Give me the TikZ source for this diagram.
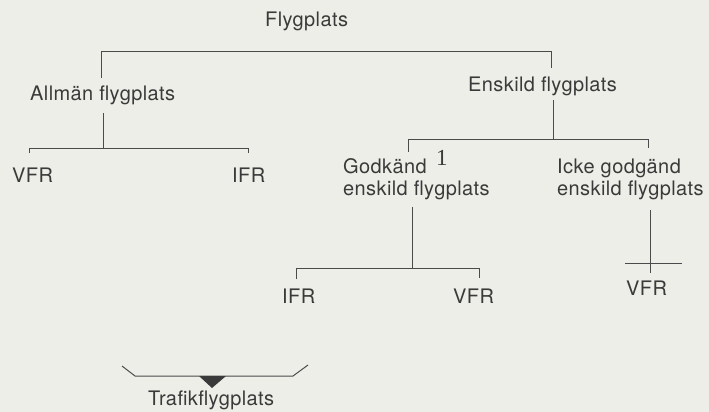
\documentclass[tikz,border=0pt]{standalone}
\usepackage{fontspec}
\setmainfont[LetterSpace=2]{TeX Gyre Heros}
\newfontfamily\digitfont{Liberation Serif}
\usetikzlibrary{positioning}
\definecolor{PaperGray}{RGB}{238,238,232}
\definecolor{InkGray}{RGB}{58,58,58}
\definecolor{LineGray}{RGB}{75,75,75}
\tikzset{
  lbl/.style={inner sep=0pt,anchor=base west,text=InkGray,
    font=\fontsize{20}{22}\selectfont},
  tree/.style={LineGray,line width=1pt}
}

\begin{document}
\begin{tikzpicture}[x=1pt,y=-1pt]
      \fill[PaperGray] (0,0) rectangle (709,412);
      \useasboundingbox (0,0) rectangle (709,412);
      % labels
      \node[lbl] (flygplats) at (265,27) {Flygplats};
      \node[lbl] (allman) at (30,100) {Allmän flygplats};
      \node[lbl] (enskild) at (468,92) {Enskild flygplats};
      \node[lbl] (vfrA) at (12,182) {VFR};
      \node[lbl] (ifrA) at (232,182) {IFR};
      \node[lbl] (godkand) at (343,173) {Godkänd};
      \node[lbl] (godkandb) at (343,195) {enskild flygplats};
      \node[lbl,font=\digitfont\fontsize{23}{24}\selectfont] (note) at (436,165) {1};
      \node[lbl] (icke) at (557,173) {Icke godgänd};
      \node[lbl] (ickeb) at (557,195) {enskild flygplats};
      \node[lbl] (ifrB) at (282,303) {IFR};
      \node[lbl] (vfrB) at (453,303) {VFR};
      \node[lbl] (vfrC) at (626,295) {VFR};
      \node[lbl] (trafik) at (148,405) {Trafikflygplats};
      % bracket ends
      \coordinate (topL) at (101,78);
      \coordinate (topR) at (551,68);
      \coordinate (allmanS) at (103,113);
      \coordinate (allmanE) at (103,148);
      \coordinate (vfrAt) at (29,153);
      \coordinate (ifrAt) at (248,153);
      \coordinate (enskildS) at (553,100);
      \coordinate (enskildE) at (553,139);
      \coordinate (godkandt) at (408,152);
      \coordinate (icket) at (648,148);
      \coordinate (godkandS) at (412,207);
      \coordinate (godkandE) at (412,268);
      \coordinate (ifrBt) at (296,279);
      \coordinate (vfrBt) at (479,278);
      \coordinate (ickeS) at (650,210);
      \coordinate (ickeE) at (650,273);
      \coordinate (crossL) at (625,263);
      \coordinate (crossR) at (682,263);
      % tree
      \draw[tree] (topL) -- ++(0,-26) -| (topR);
      \draw[tree] (allmanS) -- (allmanE);
      \draw[tree] (vfrAt) -- ++(0,-5) -| (ifrAt);
      \draw[tree] (enskildS) -- (enskildE);
      \draw[tree] (godkandt) -- ++(0,-13) -| (icket);
      \draw[tree] (godkandS) -- (godkandE);
      \draw[tree] (ifrBt) -- ++(0,-11) -| (vfrBt);
      \draw[tree] (ickeS) -- (ickeE);
      \draw[tree] (crossL) -- (crossR);
      % Trafikflygplats bracket
      \coordinate (trafL) at (122,366);
      \coordinate (trafR) at (308,365);
      \draw[tree] (trafL) -- (135,376) -- (293,376) -- (trafR);
      \fill[InkGray] (199,376) -- (226,376) -- (212,388) -- cycle;
    \end{tikzpicture}
\end{document}
